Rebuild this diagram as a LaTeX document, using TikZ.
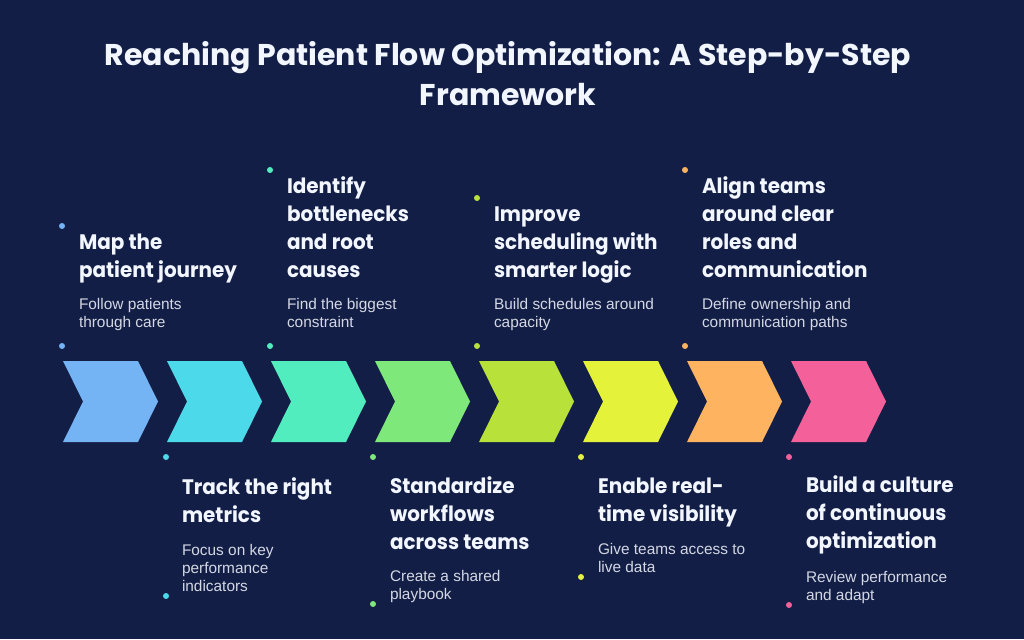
\documentclass[tikz,border=0pt]{standalone}
\usepackage{fontspec}
\setmainfont{Liberation Sans}
\newfontfamily\headfont{Poppins}
\newfontfamily\itemfont{Poppins}[FakeStretch=0.95]
\definecolor{bgc}{HTML}{131E46}
\definecolor{titlec}{HTML}{F2F6FF}
\definecolor{descc}{HTML}{D3D8E4}
\definecolor{c1}{HTML}{74B4F4}
\definecolor{c2}{HTML}{4CD9EA}
\definecolor{c3}{HTML}{52EDBF}
\definecolor{c4}{HTML}{7EE87A}
\definecolor{c5}{HTML}{B8E23A}
\definecolor{c6}{HTML}{E4F23A}
\definecolor{c7}{HTML}{FDB360}
\definecolor{c8}{HTML}{F4619A}
\begin{document}
\begin{tikzpicture}[x=1pt,y=-1pt,
  every node/.style={inner sep=0pt, outer sep=0pt},
  maintitle/.style={font=\headfont\bfseries\fontsize{30}{40}\selectfont, text=titlec, align=center, anchor=base},
  ttl/.style={font=\itemfont\bfseries\fontsize{21}{28}\selectfont, text=titlec, align=left, anchor=base west},
  dsc/.style={font=\fontsize{15.4}{18}\selectfont, text=descc, align=left, anchor=base west},
  dotmark/.style={circle, minimum size=6pt, inner sep=0pt}]
\fill[bgc] (0,0) rectangle (1024,639);
\useasboundingbox (0,0) rectangle (1024,639);

% (multi-line nodes: anchor point = baseline of the last line)
\node[maintitle] (title) at (508,106) {Reaching Patient Flow Optimization: A Step-by-Step\\Framework};

% chevrons
\foreach \i in {1,...,8} {
  \pgfmathsetmacro\xo{63+104*(\i-1)}
  \fill[c\i] (\xo,361) -- ++(75,0) -- ++(20,40.5) -- ++(-20,40.5) -- ++(-75,0) -- ++(20,-40.5) -- cycle;
}

% step 1 (top)
\node[dotmark, fill=c1] (d1a) at (62,226) {};
\node[ttl] (t1) at (79,277) {Map the\\patient journey};
\node[dsc] (s1) at (79,327) {Follow patients\\through care};
\node[dotmark, fill=c1] (d1b) at (62,346) {};

% step 3 (top)
\node[dotmark, fill=c3] (d3a) at (270,170) {};
\node[ttl] (t3) at (287,277) {Identify\\bottlenecks\\and root\\causes};
\node[dsc] (s3) at (287,327) {Find the biggest\\constraint};
\node[dotmark, fill=c3] (d3b) at (270,346) {};

% step 5 (top)
\node[dotmark, fill=c5] (d5a) at (477,198) {};
\node[ttl] (t5) at (494,277) {Improve\\scheduling with\\smarter logic};
\node[dsc] (s5) at (494,327) {Build schedules around\\capacity};
\node[dotmark, fill=c5] (d5b) at (477,346) {};

% step 7 (top)
\node[dotmark, fill=c7] (d7a) at (685,170) {};
\node[ttl] (t7) at (702,277) {Align teams\\around clear\\roles and\\communication};
\node[dsc] (s7) at (702,327) {Define ownership and\\communication paths};
\node[dotmark, fill=c7] (d7b) at (685,346) {};

% step 2 (bottom)
\node[dotmark, fill=c2] (d2a) at (166,457) {};
\node[ttl] (t2) at (182,522) {Track the right\\metrics};
\node[dsc] (s2) at (182,591) {Focus on key\\performance\\indicators};
\node[dotmark, fill=c2] (d2b) at (166,596) {};

% step 4 (bottom)
\node[dotmark, fill=c4] (d4a) at (373,457) {};
\node[ttl] (t4) at (390,549) {Standardize\\workflows\\across teams};
\node[dsc] (s4) at (390,599) {Create a shared\\playbook};
\node[dotmark, fill=c4] (d4b) at (373,604) {};

% step 6 (bottom)
\node[dotmark, fill=c6] (d6a) at (581,457) {};
\node[ttl] (t6) at (598,521) {Enable real-\\time visibility};
\node[dsc] (s6) at (598,572) {Give teams access to\\live data};
\node[dotmark, fill=c6] (d6b) at (581,577) {};

% step 8 (bottom)
\node[dotmark, fill=c8] (d8a) at (789,457) {};
\node[ttl] (t8) at (806,548) {Build a culture\\of continuous\\optimization};
\node[dsc] (s8) at (806,600) {Review performance\\and adapt};
\node[dotmark, fill=c8] (d8b) at (789,605) {};
\end{tikzpicture}
\end{document}
